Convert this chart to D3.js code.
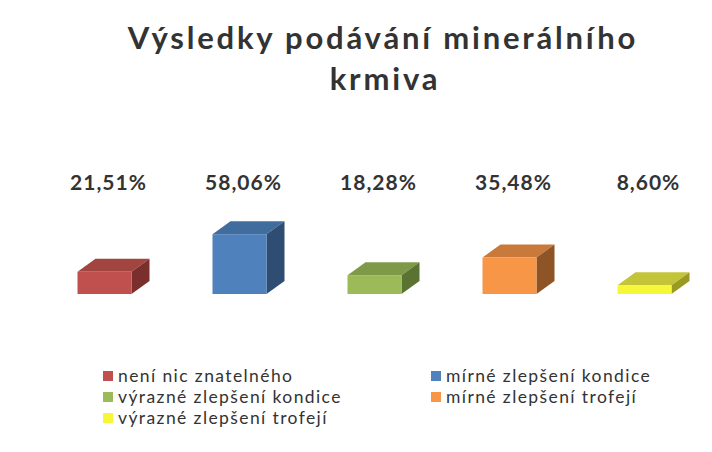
<!DOCTYPE html>
<html>
<head>
<meta charset="utf-8">
<script src="https://cdn.jsdelivr.net/npm/d3@7"></script>
<style>
  body { margin: 0; background: #fff; }
  svg { display: block; }
</style>
</head>
<body>
<div id="chart"></div>
<script>
var categories = ["není nic znatelného", "mírné zlepšení kondice", "výrazné zlepšení kondice", "mírné zlepšení trofejí", "výrazné zlepšení trofejí"];
var values = [21.51, 58.06, 18.28, 35.48, 8.60];
var valueLabels = ["21,51%", "58,06%", "18,28%", "35,48%", "8,60%"];
var frontColors = ["#c0504d", "#4f81bd", "#9bbb59", "#f79646", "#f7f73a"];
var topColors = ["#a24440", "#416c9e", "#7e9a48", "#c97a3a", "#c4c43a"];
var sideColors = ["#7a2f2c", "#2f4c72", "#5b7332", "#8f5426", "#9a9a22"];

var width = 712, height = 452;
var depthX = 18, depthY = 13;

var svg = d3.select("#chart").append("svg")
  .attr("width", width)
  .attr("height", height);

// title
var title = svg.append("text")
  .attr("text-anchor", "middle")
  .style("font-family", "Lato, 'Open Sans', sans-serif")
  .style("font-weight", "bold")
  .style("font-size", "31px")
  .style("letter-spacing", "2.8px")
  .style("fill", "#333");
title.append("tspan").attr("x", 383).attr("y", 49).text("Výsledky podávání minerálního");
title.append("tspan").attr("x", 385).attr("y", 90).text("krmiva");

var x = d3.scaleBand()
  .domain(categories)
  .range([37, 712])
  .paddingInner(0.6)
  .paddingOuter(0.3);

var y = d3.scaleLinear()
  .domain([0, 100])
  .range([294, 191]);

var bars = svg.selectAll("g.bar")
  .data(categories)
  .enter()
  .append("g")
  .attr("class", "bar");

// top face
bars.append("polygon")
  .attr("points", function (d, i) {
    var x0 = x(d), x1 = x(d) + x.bandwidth(), yt = y(values[i]);
    return [[x0, yt], [x0 + depthX, yt - depthY], [x1 + depthX, yt - depthY], [x1, yt]].join(" ");
  })
  .style("fill", function (d, i) { return topColors[i]; });

// side face
bars.append("polygon")
  .attr("points", function (d, i) {
    var x1 = x(d) + x.bandwidth(), yt = y(values[i]), yb = y(0);
    return [[x1, yt], [x1 + depthX, yt - depthY], [x1 + depthX, yb - depthY], [x1, yb]].join(" ");
  })
  .style("fill", function (d, i) { return sideColors[i]; });

// front face
bars.append("rect")
  .attr("x", function (d) { return x(d); })
  .attr("y", function (d, i) { return y(values[i]); })
  .attr("width", x.bandwidth())
  .attr("height", function (d, i) { return y(0) - y(values[i]); })
  .style("fill", function (d, i) { return frontColors[i]; });

// value labels
svg.selectAll("text.val")
  .data(categories)
  .enter()
  .append("text")
  .attr("class", "val")
  .attr("x", function (d) { return x(d) + x.bandwidth() / 2 + 4; })
  .attr("y", 190)
  .attr("text-anchor", "middle")
  .style("font-family", "Lato, 'Open Sans', sans-serif")
  .style("font-weight", "bold")
  .style("font-size", "21px")
  .style("letter-spacing", "1px")
  .style("fill", "#333")
  .text(function (d, i) { return valueLabels[i]; });

// legend
var legend = svg.selectAll("g.legend")
  .data(categories)
  .enter()
  .append("g")
  .attr("class", "legend")
  .attr("transform", function (d, i) {
    return "translate(" + (i % 2 ? 431 : 103) + "," + (377 + Math.floor(i / 2) * 21) + ")";
  });

legend.append("rect")
  .attr("x", 0)
  .attr("y", -6)
  .attr("width", 10)
  .attr("height", 10)
  .style("fill", function (d, i) { return frontColors[i]; });

legend.append("text")
  .attr("x", 15)
  .attr("y", 5)
  .style("font-family", "Lato, 'Open Sans', sans-serif")
  .style("font-size", "17.5px")
  .style("letter-spacing", "1.4px")
  .style("fill", "#333")
  .text(function (d) { return d; });
</script>
</body>
</html>
